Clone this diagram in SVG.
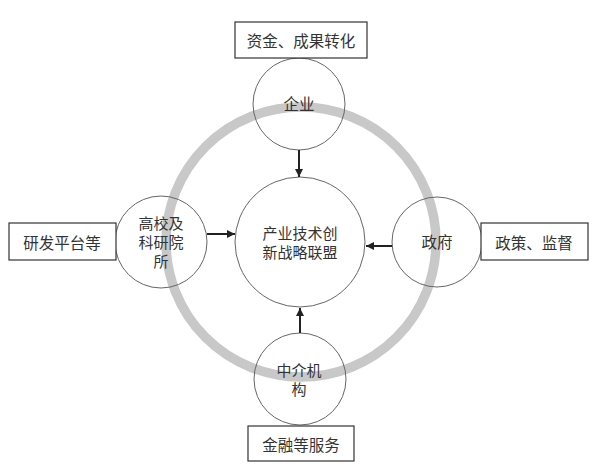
<svg xmlns="http://www.w3.org/2000/svg" width="608" height="469" viewBox="0 0 608 469">
<defs>
<marker id="ah" viewBox="0 0 10 10" refX="10" refY="5" markerWidth="4" markerHeight="4" orient="auto" markerUnits="strokeWidth">
<path d="M0,0 L10,5 L0,10 z" fill="#222"/>
</marker>
<style>
.t{font-family:"Noto Sans CJK SC","Noto Sans",sans-serif;font-size:15.5px;fill:#333;text-anchor:middle;dominant-baseline:central}
.m{font-size:15px}
.c{fill:none;stroke:#666;stroke-width:1}
.b{fill:#fff;stroke:#333;stroke-width:1.2}
.a{stroke:#222;stroke-width:2;fill:none;marker-end:url(#ah)}
</style>
</defs>
<rect width="608" height="469" fill="#fff"/>
<circle id="ring" cx="301" cy="242" r="135" fill="none" stroke="#c8c8c8" stroke-width="9.5"/>
<g id="center">
<circle class="c" cx="300" cy="242" r="65"/>
<text class="t m" x="300" y="232">产业技术创</text>
<text class="t m" x="300" y="251">新战略联盟</text>
</g>
<g id="enterprise">
<circle class="c" cx="299" cy="104" r="46"/>
<text class="t" x="299" y="103">企业</text>
</g>
<g id="university">
<circle class="c" cx="161" cy="242" r="46"/>
<text class="t m" x="161" y="222">高校及</text>
<text class="t m" x="161" y="241">科研院</text>
<text class="t m" x="161" y="260">所</text>
</g>
<g id="government">
<circle class="c" cx="437" cy="242" r="45"/>
<text class="t" x="437" y="241">政府</text>
</g>
<g id="agency">
<circle class="c" cx="300" cy="379" r="46"/>
<text class="t m" x="299" y="369">中介机</text>
<text class="t m" x="299" y="388">构</text>
</g>
<g id="box-top">
<rect class="b" x="235" y="22" width="132" height="36"/>
<text class="t" x="301" y="40">资金、成果转化</text>
</g>
<g id="box-left">
<rect class="b" x="9" y="223" width="107" height="37"/>
<text class="t" x="62" y="242">研发平台等</text>
</g>
<g id="box-right">
<rect class="b" x="481" y="223" width="107" height="37"/>
<text class="t" x="534" y="242">政策、监督</text>
</g>
<g id="box-bottom">
<rect class="b" x="248" y="426" width="106" height="35"/>
<text class="t" x="301" y="444">金融等服务</text>
</g>
<g id="connectors">
<line class="a" x1="299" y1="150" x2="299" y2="177"/>
<line class="a" x1="207" y1="234" x2="235" y2="234"/>
<line class="a" x1="392" y1="246" x2="366" y2="246"/>
<line class="a" x1="300" y1="333" x2="300" y2="308"/>
</g>
</svg>
